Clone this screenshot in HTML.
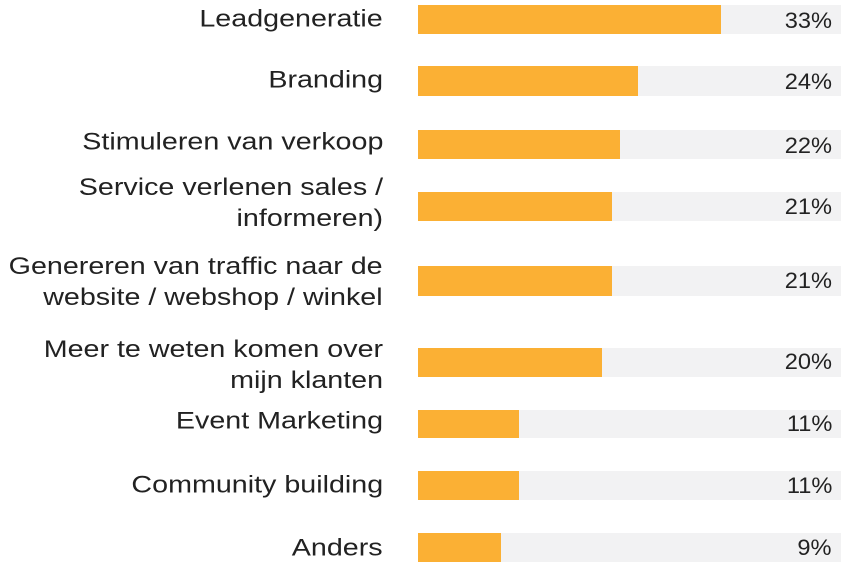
<!DOCTYPE html>
<html><head><meta charset="utf-8"><style>
body{margin:0;width:847px;height:570px;background:#fff;position:relative;overflow:hidden;font-family:"Liberation Sans",sans-serif;color:#222}
.t{position:absolute;background:#f2f2f3;left:418px;width:423px}
.b{position:absolute;background:#fbb034;left:418px}
.l{position:absolute;right:464px;font-size:24.5px;text-align:right;line-height:31px;white-space:nowrap;transform:translateY(-50%) scaleX(1.17);transform-origin:right center}
.p{position:absolute;right:15px;font-size:22.5px;line-height:26px;transform:translateY(-50%) scaleX(1.05);transform-origin:right center}
</style></head><body>
<div class="t" style="top:5px;height:29px"></div><div class="b" style="top:5px;height:29px;width:303px"></div>
<div class="t" style="top:66px;height:30px"></div><div class="b" style="top:66px;height:30px;width:220px"></div>
<div class="t" style="top:130px;height:29px"></div><div class="b" style="top:130px;height:29px;width:202px"></div>
<div class="t" style="top:192px;height:29px"></div><div class="b" style="top:192px;height:29px;width:194px"></div>
<div class="t" style="top:266px;height:30px"></div><div class="b" style="top:266px;height:30px;width:194px"></div>
<div class="t" style="top:348px;height:29px"></div><div class="b" style="top:348px;height:29px;width:184px"></div>
<div class="t" style="top:410px;height:28px"></div><div class="b" style="top:410px;height:28px;width:101px"></div>
<div class="t" style="top:471px;height:29px"></div><div class="b" style="top:471px;height:29px;width:101px"></div>
<div class="t" style="top:533px;height:29px"></div><div class="b" style="top:533px;height:29px;width:83px"></div>

<div class="l" style="top:19px">Leadgeneratie</div>
<div class="l" style="top:80px">Branding</div>
<div class="l" style="top:142px">Stimuleren van verkoop</div>
<div class="l" style="top:203px">Service verlenen sales /<br>informeren)</div>
<div class="l" style="top:282px">Genereren van traffic naar de<br>website / webshop / winkel</div>
<div class="l" style="top:365px">Meer te weten komen over<br>mijn klanten</div>
<div class="l" style="top:421px">Event Marketing</div>
<div class="l" style="top:485px">Community building</div>
<div class="l" style="top:548px">Anders</div>

<div class="p" style="top:21px">33%</div>
<div class="p" style="top:82px">24%</div>
<div class="p" style="top:146px">22%</div>
<div class="p" style="top:207px">21%</div>
<div class="p" style="top:281px">21%</div>
<div class="p" style="top:362px">20%</div>
<div class="p" style="top:424px">11%</div>
<div class="p" style="top:486px">11%</div>
<div class="p" style="top:548px">9%</div>
</body></html>
